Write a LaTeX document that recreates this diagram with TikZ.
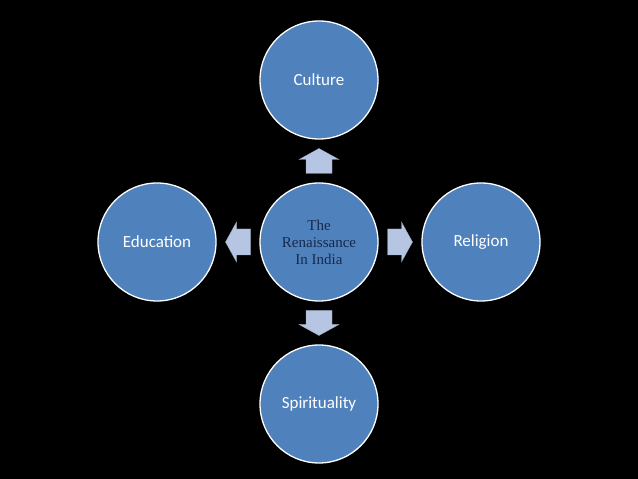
\documentclass[tikz,border=0pt]{standalone}
\usepackage{fontspec}
\usepackage{xcolor}
\usepackage{tikz}
\usetikzlibrary{positioning,calc}
\newfontfamily\calibrifont{Carlito}
\newfontfamily\timesfont{Liberation Serif}

\definecolor{circleblue}{HTML}{4F81BD}
\definecolor{arrowblue}{HTML}{B6C5E2}
\definecolor{navytext}{HTML}{17294A}

\tikzset{
  topic/.style={circle, draw=white, line width=1.3pt, fill=circleblue,
    minimum size=118pt, inner sep=0pt, text=white,
    font=\calibrifont\fontsize{17}{20}\selectfont},
  hub/.style={topic, text=navytext, align=center,
    font=\timesfont\fontsize{15}{17}\selectfont},
  blockarrow/.style={fill=arrowblue, draw=arrowblue!85!black, line width=0.3pt}
}

% block arrow pointing right, then turned: #1 = centre, #2 = angle
\newcommand{\blockarrow}[2]{%
  \filldraw[blockarrow, shift={#1}, rotate=#2]
    (-12.5,-13) -- (1.5,-13) -- (1.5,-20) -- (12.5,0)
    -- (1.5,20) -- (1.5,13) -- (-12.5,13) -- cycle;}

\begin{document}
\begin{tikzpicture}[x=1pt, y=1pt]
% background
\fill[black] (0,0) rectangle (638,479);
\useasboundingbox (0,0) rectangle (638,479);

% hub and the four topics
\node[hub] (renaissance) at (319,237) {The\\Renaissance\\In India};
\node[topic] (culture) at (319,399) {Culture};
\node[topic] (religion) at (481,237) {Religion};
\node[topic] (spirituality) at (319,75) {Spirituality};
\node[topic] (education) at (157,237) {Education};

% arrows between them
\blockarrow{($(renaissance)!0.5!(culture)$)}{90}
\blockarrow{($(renaissance)!0.5!(religion)$)}{0}
\blockarrow{($(renaissance)!0.5!(spirituality)$)}{-90}
\blockarrow{($(renaissance)!0.5!(education)$)}{180}
\end{tikzpicture}
\end{document}
